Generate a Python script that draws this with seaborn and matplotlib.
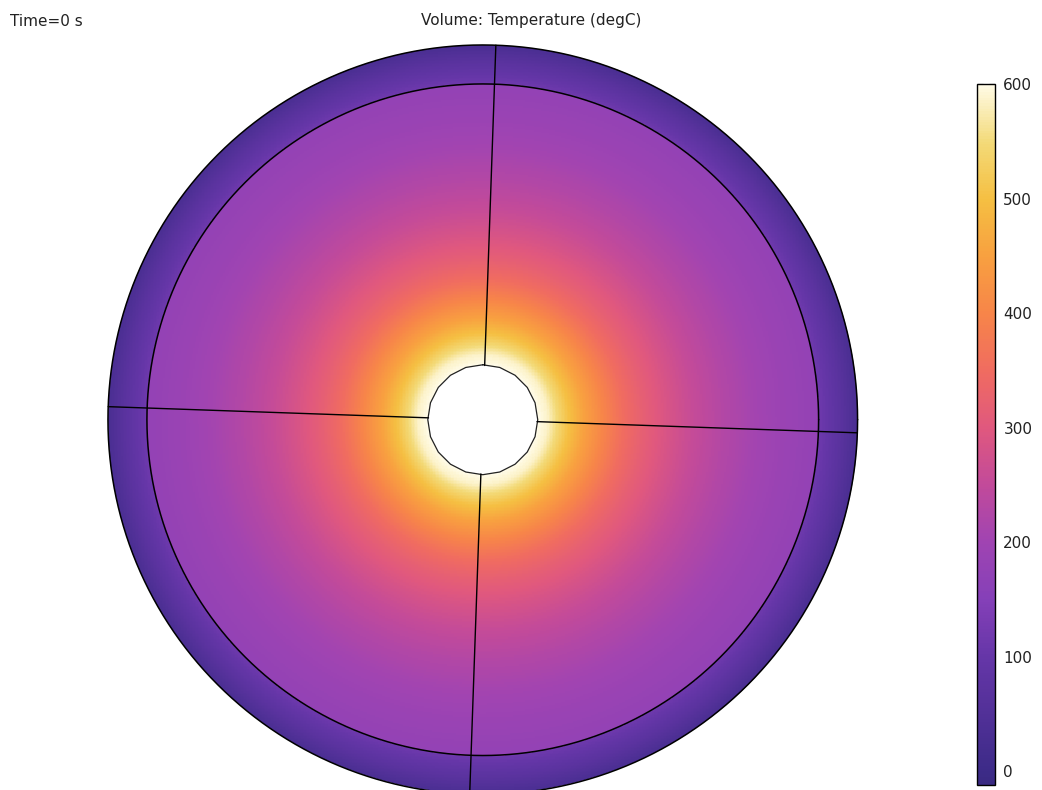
import numpy as np
import matplotlib
matplotlib.use("Agg")
import matplotlib.pyplot as plt
from matplotlib.colors import LinearSegmentedColormap
from matplotlib.patches import Circle
from matplotlib.path import Path
import seaborn as sns

sns.set_theme(style="white")
plt.rcParams["font.family"] = ["DejaVu Sans"]

# Geometry (pixel units of the 1042x790 canvas)
W, H = 1042, 790
center = (483.0, 420.0)
hole_radius = 55.0
hole_sides = 20
liner_radius = 336.0
outer_radius = 375.0
cut_angles_deg = [88.0, -2.0, 178.0, 268.0]

# Radial temperature profile (degC) in the core and in the outer ring
core_radius = [55, 65, 75, 85, 100, 120, 140, 160, 185, 210, 240, 270, 300, 336]
core_temp = [600, 585, 545, 505, 455, 400, 352, 318, 285, 255, 228, 206, 190, 176]
ring_radius = [336, 345, 355, 365, 375]
ring_temp = [115, 97, 77, 54, 30]

t_min, t_max = -12, 600
cbar_ticks = [0, 100, 200, 300, 400, 500, 600]

# Colour scale
cmap_levels = [-12, 0, 100, 150, 200, 250, 300, 350, 400, 450, 500, 550, 600]
cmap_colors = ["#3a2a82", "#3d2b88", "#6636a8", "#8540b8", "#a044b2", "#c24a9a",
               "#e0587e", "#f06c60", "#f78549", "#f8a040", "#f5bf42", "#f3da78", "#fffbe6"]
pos = [(v - t_min) / (t_max - t_min) for v in cmap_levels]
cmap = LinearSegmentedColormap.from_list("heat", list(zip(pos, cmap_colors)))

# Evaluate the field on a grid of cells
s = 1.5
nx, ny = int(round(W / s)), int(round(H / s))
xs = (np.arange(nx) + 0.5) * s
ys = (np.arange(ny) + 0.5) * s
X, Y = np.meshgrid(xs, ys)
R = np.hypot(X - center[0], Y - center[1])
T = np.where(R <= liner_radius,
             np.interp(R, core_radius, core_temp),
             np.interp(R, ring_radius, ring_temp))

# Hole polygon and domain mask
ang_h = np.deg2rad(np.arange(hole_sides) * 360.0 / hole_sides + 90.0)
hx = center[0] + hole_radius * np.cos(ang_h)
hy = center[1] - hole_radius * np.sin(ang_h)
hole_path = Path(np.column_stack([hx, hy]))
inside_hole = hole_path.contains_points(np.column_stack([X.ravel(), Y.ravel()])).reshape(X.shape)
mask = (R > outer_radius + 4) | inside_hole

fig = plt.figure(figsize=(W / 100, H / 100), dpi=100)
ax = fig.add_axes([0, 0, 1, 1])
cax = fig.add_axes([977 / W, (H - 785) / H, 18 / W, 701 / H])

sns.heatmap(T, mask=mask, cmap=cmap, vmin=t_min, vmax=t_max, ax=ax, cbar_ax=cax,
            xticklabels=False, yticklabels=False, rasterized=True)
ax.set_xlim(0, nx)
ax.set_ylim(ny, 0)
for sp in ax.spines.values():
    sp.set_visible(False)


def to_cells(px, py):
    return np.asarray(px) / s, np.asarray(py) / s


# Clip the field to the outer circle
clip = Circle((center[0] / s, center[1] / s), outer_radius / s, transform=ax.transData,
              facecolor="none", edgecolor="none")
ax.add_patch(clip)
ax.collections[0].set_clip_path(clip)

# Boundaries
th = np.linspace(0, 2 * np.pi, 721)
for rad in (outer_radius, liner_radius):
    cx, cy = to_cells(center[0] + rad * np.cos(th), center[1] + rad * np.sin(th))
    ax.plot(cx, cy, color="black", lw=1.1)
cx, cy = to_cells(np.append(hx, hx[0]), np.append(hy, hy[0]))
ax.plot(cx, cy, color="#222222", lw=0.9)

# Radial cut lines
for a in np.deg2rad(cut_angles_deg):
    r0 = hole_radius * np.cos(np.pi / hole_sides)
    px = [center[0] + r0 * np.cos(a), center[0] + outer_radius * np.cos(a)]
    py = [center[1] - r0 * np.sin(a), center[1] - outer_radius * np.sin(a)]
    cx, cy = to_cells(px, py)
    ax.plot(cx, cy, color="black", lw=1.0)

# Colour bar styling
cbar = ax.collections[0].colorbar
cbar.set_ticks(cbar_ticks)
cbar.outline.set_linewidth(1.0)
cbar.outline.set_edgecolor("black")
cax.tick_params(direction="in", left=True, right=True, length=4, width=0.8,
                labelsize=11, colors="black", labelcolor="#222222", pad=6)

fig.text(10 / W, 1 - 21 / H, "Time=0 s", fontsize=11, va="center", ha="left", color="#222222")
fig.text(531 / W, 1 - 21 / H, "Volume: Temperature (degC)", fontsize=11,
         va="center", ha="center", color="#222222")

fig.savefig("out.png", dpi=100)
